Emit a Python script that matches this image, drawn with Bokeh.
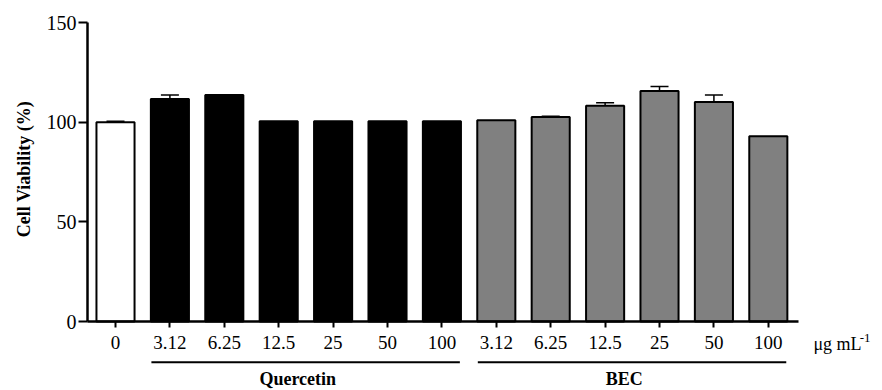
import math
from bokeh.plotting import figure
from bokeh.models import ColumnDataSource, FixedTicker, Whisker, TeeHead, Range1d
from bokeh.core.properties import value
from bokeh.embed import file_html
from bokeh.resources import INLINE

# ---- data ----
tick_labels = ["0", "3.12", "6.25", "12.5", "25", "50", "100",
               "3.12", "6.25", "12.5", "25", "50", "100"]
control_value = [100.0]
control_err = [0.5]
quercetin_values = [111.6, 113.6, 100.5, 100.5, 100.5, 100.5]
quercetin_err = [2.0, 0.0, 0.0, 0.0, 0.0, 0.0]
bec_values = [101.0, 102.6, 108.3, 115.6, 110.1, 92.9]
bec_err = [0.0, 0.4, 1.5, 2.3, 3.5, 0.0]
group_names = ["Quercetin", "BEC"]
unit_text = "μg mL"
unit_sup = "-1"
y_title = "Cell Viability (%)"
y_ticks = [0, 50, 100, 150]

SERIF = "Liberation Serif"

xs = list(range(len(tick_labels)))
values = control_value + quercetin_values + bec_values
errs = control_err + quercetin_err + bec_err
colors = (["white"] * len(control_value) + ["black"] * len(quercetin_values)
          + ["#808080"] * len(bec_values))

src = ColumnDataSource(dict(x=xs, top=values, color=colors))

X0 = -0.515
p = figure(width=882, height=390, output_backend="svg", toolbar_location=None,
           x_range=Range1d(-2.114, 14.099), y_range=Range1d(-34.6, 161.04),
           min_border_left=0, min_border_right=0, min_border_top=0,
           min_border_bottom=0)
p.outline_line_color = None
p.grid.visible = False
p.background_fill_color = "white"
p.border_fill_color = "white"

# error bars (upper only)
esrc = ColumnDataSource(dict(
    x=[x for x, e in zip(xs, errs) if e > 0],
    base=[v for v, e in zip(values, errs) if e > 0],
    upper=[v + e for v, e in zip(values, errs) if e > 0]))
w = Whisker(base="x", lower="base", upper="upper", source=esrc, dimension="height",
            line_color="black", line_width=1.5,
            upper_head=TeeHead(size=18, line_color="black", line_width=1.5),
            lower_head=None)
p.add_layout(w)

p.vbar(x="x", top="top", bottom=0, width=0.70, source=src, fill_color="color",
       line_color="black", line_width=2)

# axes
xa = p.xaxis[0]
xa.fixed_location = 0
xa.bounds = (X0, 12.555)
xa.ticker = FixedTicker(ticks=xs)
xa.major_label_overrides = {i: t for i, t in enumerate(tick_labels)}
xa.minor_tick_line_color = None
xa.major_tick_in = 0
xa.major_tick_out = 6
xa.major_tick_line_width = 2
xa.axis_line_width = 2.5
xa.major_label_text_font = SERIF
xa.major_label_text_font_size = "19px"
xa.major_label_text_color = "black"
xa.major_label_standoff = 8

ya = p.yaxis[0]
ya.fixed_location = X0
ya.bounds = (0, 150)
ya.ticker = FixedTicker(ticks=y_ticks)
ya.minor_tick_line_color = None
ya.major_tick_in = 0
ya.major_tick_out = 9
ya.major_tick_line_width = 2
ya.axis_line_width = 2.5
ya.major_label_text_font = SERIF
ya.major_label_text_font_size = "20px"
ya.major_label_text_color = "black"
ya.major_label_standoff = 2

# y axis title
p.text(x=[-1.69], y=[76.5], text=[y_title], angle=math.pi / 2,
       text_font=value(SERIF), text_font_style="bold", text_font_size="18px",
       text_align="center", text_baseline="middle", text_color="black")

# group lines and labels
q_n = len(quercetin_values)
groups = [(1, q_n), (q_n + 1, q_n + len(bec_values))]
line_y = -20.4
label_y = -28.6
p.segment(x0=[a - 0.34 for a, b in groups], x1=[b + 0.33 for a, b in groups],
          y0=[line_y] * 2, y1=[line_y] * 2, line_color="black", line_width=2)
p.text(x=[(a + b) / 2 - 0.15 for a, b in groups], y=[label_y] * 2, text=group_names,
       text_font=value(SERIF), text_font_style="bold", text_font_size="18px",
       text_align="center", text_baseline="middle", text_color="black")

p.text(x=[12.83], y=[-11.5], text=[unit_text], text_font=value(SERIF),
       text_font_size="18px", text_align="left", text_baseline="middle",
       text_color="black")
p.text(x=[13.68], y=[-8.4], text=[unit_sup], text_font=value(SERIF),
       text_font_size="13px", text_align="left", text_baseline="middle",
       text_color="black")

open("out.html", "w").write(file_html(p, INLINE))
